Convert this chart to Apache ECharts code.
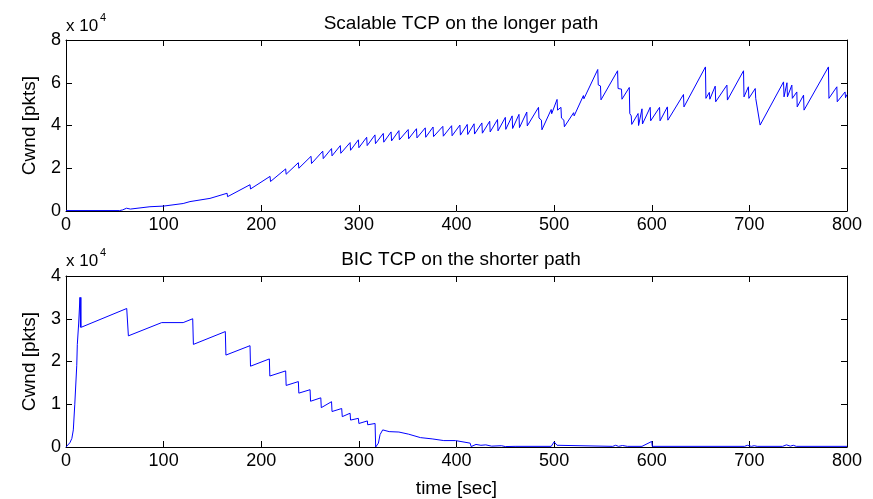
<!DOCTYPE html>
<html>
<head>
<meta charset="utf-8">
<script src="https://cdn.jsdelivr.net/npm/echarts@6/dist/echarts.min.js"></script>
<style>
html,body{margin:0;padding:0;background:#fff;}
#chart{width:873px;height:499px;}
</style>
</head>
<body>
<div id="chart"></div>
<script>
// ---- Data (time in sec, cwnd in pkts) ----
var topTitle = 'Scalable TCP on the longer path';
var bottomTitle = 'BIC TCP on the shorter path';
var xTicks = [0, 100, 200, 300, 400, 500, 600, 700, 800];
var topYTicks = [0, 20000, 40000, 60000, 80000];
var bottomYTicks = [0, 10000, 20000, 30000, 40000];

var topTime = [0,55,58,62,63,66,86,100,120,127,129,147.5,165,165.5,188.5,189,209,209.5,225,225.5,238,238.5,251,251.5,263,263.5,272,272.5,281,281.5,291,291.5,299.5,300,308,308.5,316.5,317,325,325.5,333,333.5,341,341.5,350.5,351,359,359.5,368,368.5,376,376.5,386,386.5,395,395.5,403.5,404,411,411.5,418,418.5,426,426.5,434,434.5,442,442.5,450,450.5,457,457.5,464,464.5,472,472.5,484,484.5,487,487.5,497,497.5,503,503.5,507,507.5,510,510.5,520,520.5,530,530.5,544.7,545.2,547.5,548,565,565.5,569,569.5,577,577.5,579,579.5,580.5,586,586.5,590,590.5,598.4,598.9,608,608.5,616,616.5,632.5,633,655,655.5,659,659.5,665,665.5,677,677.5,694,694.5,699,699.5,706,706.5,708,711,735,735.5,738.5,739,743.5,744,748.6,749,755.5,756,781,781.5,789.6,790,798,798.5,800];
var topCwnd = [200,200,500,1300,900,900,2000,2300,3500,4400,4100,5900,8300,6700,12300,10300,16200,13800,19700,17200,22600,20000,25600,22200,28000,24500,29200,25800,30600,27000,32000,28400,33300,29600,34500,30600,35600,31500,36300,32200,37000,32800,37600,33300,38100,33800,38500,34200,38900,34500,39300,34800,39600,35000,39900,35200,40200,35500,40500,35800,40800,36000,41200,36400,42000,37000,42800,37500,43800,38200,44500,38600,45200,39000,46300,39800,48500,43500,42500,38000,47500,45500,52200,47200,48500,43500,42500,39400,46000,44500,54000,52500,66200,59000,58500,52000,65600,57300,57000,52300,57800,45600,44500,40500,40200,45600,40000,47800,40700,48500,42200,48500,42200,48700,42500,54500,48700,67400,52700,55500,52300,58400,51100,58900,51900,65600,53400,58100,52700,57300,52700,52000,40200,60400,53400,60000,53400,58900,52700,55700,48700,54200,47200,67400,52700,58100,51100,55700,53000,54500];

var bottomTime = [0,4,6,7.5,9,11,11.6,13,14,14.3,14.8,15.2,15.5,62.2,63.9,98,120,129.8,130.5,163.2,163.8,188.5,189,208.3,208.8,225,225.5,238,238.5,250,250.5,261,261.5,272,272.5,282.4,283,291,291.5,299.5,300,308.7,309,316.6,317.2,320,321.7,324.4,331,331.5,341,341.5,351,351.5,363,363.5,375,375.5,387,387.5,399,414,415,420,425,430,436,446,450,460,497,500,503,505,560,563,566,570,575,590,600,600.5,695,698,702,705,708,734,738,742,745,748,800];
var bottomCwnd = [0,1000,2000,4000,10000,19000,24000,29000,29000,35000,28000,35000,28000,32400,26000,29100,29100,30000,24000,27000,21500,23700,18900,20600,16600,17800,14400,15300,12600,13400,10700,11500,9200,10600,8300,9000,7100,7900,6300,6700,5500,6100,5200,5500,0,900,2900,4000,3600,3800,3500,3700,3000,3300,2200,2500,1900,2100,1500,1700,1500,900,100,600,400,500,200,300,100,150,150,1200,400,150,150,400,150,350,150,150,1300,150,150,400,150,300,150,150,500,200,400,150,150];

function pairs(xs, ys){ var out=[]; for(var i=0;i<xs.length;i++){ out.push([xs[i], ys[i]]); } return out; }

var FONT = "'Liberation Sans', Arial, Helvetica, sans-serif";
var TXT = '#000';

function xAx(grid, showLabels, pos, name){
  return {
    type:'value', gridIndex:grid, min:xTicks[0], max:xTicks[xTicks.length-1], interval:100,
    position:pos,
    name: name || '', nameLocation:'middle', nameGap:32,
    nameTextStyle:{color:TXT, fontSize:19, fontFamily:FONT},
    axisLine:{show:true, onZero:false, lineStyle:{color:'#000', width:1}},
    axisTick:{show:true, inside:true, length:6, lineStyle:{color:'#000'}},
    axisLabel:{show:showLabels, color:TXT, fontSize:18, fontFamily:FONT, margin:5},
    splitLine:{show:false}
  };
}
function yAx(grid, showLabels, pos, ticks, name){
  var iv = ticks[1]-ticks[0];
  return {
    type:'value', gridIndex:grid, min:ticks[0], max:ticks[ticks.length-1], interval:iv,
    position:pos,
    name: name || '', nameLocation:'middle', nameGap:27,
    nameTextStyle:{color:TXT, fontSize:19, fontFamily:FONT},
    axisLine:{show:true, onZero:false, lineStyle:{color:'#000', width:1}},
    axisTick:{show:true, inside:true, length:6, lineStyle:{color:'#000'}},
    axisLabel:{show:showLabels, color:TXT, fontSize:18, fontFamily:FONT, margin:5,
      formatter:function(v){ return String(v/10000); }},
    splitLine:{show:false}
  };
}

var chart = echarts.init(document.getElementById('chart'), null, {renderer:'canvas'});
chart.setOption({
  animation:false,
  backgroundColor:'#fff',
  title:[
    {text:topTitle, left:456, top:9, textAlign:'center',
     textStyle:{color:TXT, fontSize:19, fontWeight:'normal', fontFamily:FONT}},
    {text:bottomTitle, left:456, top:245, textAlign:'center',
     textStyle:{color:TXT, fontSize:19, fontWeight:'normal', fontFamily:FONT}}
  ],
  grid:[
    {left:66, top:40, width:781, height:171},
    {left:66, top:276, width:781, height:173}
  ],
  xAxis:[
    xAx(0, true, 'bottom'),
    xAx(0, false, 'top'),
    xAx(1, true, 'bottom', 'time [sec]'),
    xAx(1, false, 'top')
  ],
  yAxis:[
    yAx(0, true, 'left', topYTicks, 'Cwnd [pkts]'),
    yAx(0, false, 'right', topYTicks),
    yAx(1, true, 'left', bottomYTicks, 'Cwnd [pkts]'),
    yAx(1, false, 'right', bottomYTicks)
  ],
  graphic:[
    {type:'text', left:66, top:18, style:{text:'x 10', fill:TXT, font:'17px ' + FONT}},
    {type:'text', left:100, top:12, style:{text:'4', fill:TXT, font:'11px ' + FONT}},
    {type:'text', left:66, top:253, style:{text:'x 10', fill:TXT, font:'17px ' + FONT}},
    {type:'text', left:100, top:247, style:{text:'4', fill:TXT, font:'11px ' + FONT}}
  ],
  series:[
    {type:'line', xAxisIndex:0, yAxisIndex:0, data:pairs(topTime, topCwnd), showSymbol:false,
     lineStyle:{color:'#0000ff', width:1}, itemStyle:{color:'#0000ff'}},
    {type:'line', xAxisIndex:2, yAxisIndex:2, data:pairs(bottomTime, bottomCwnd), showSymbol:false,
     lineStyle:{color:'#0000ff', width:1}, itemStyle:{color:'#0000ff'}}
  ]
});
</script>
</body>
</html>
